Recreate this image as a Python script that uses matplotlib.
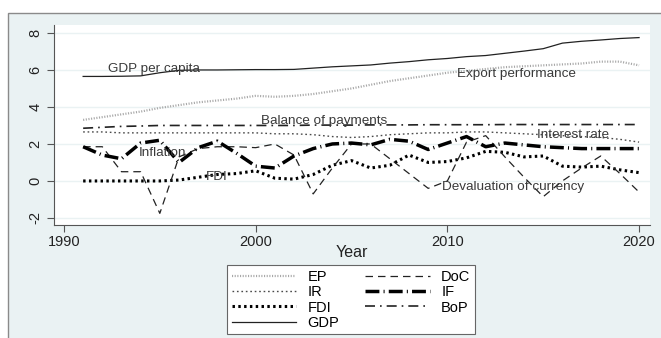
import matplotlib.pyplot as plt
from matplotlib.patches import Rectangle

plt.rcParams['font.family'] = ['Liberation Sans', 'DejaVu Sans']

years = list(range(1991, 2021))

gdp = [5.65, 5.65, 5.66, 5.68, 5.85, 5.98, 6.00, 6.00, 6.01, 6.02,
       6.02, 6.03, 6.10, 6.17, 6.22, 6.27, 6.37, 6.45, 6.55, 6.62,
       6.72, 6.78, 6.90, 7.02, 7.15, 7.45, 7.55, 7.62, 7.70, 7.75]
ep = [3.30, 3.45, 3.60, 3.75, 3.95, 4.10, 4.25, 4.35, 4.45, 4.60,
      4.55, 4.60, 4.70, 4.85, 5.00, 5.20, 5.40, 5.55, 5.70, 5.85,
      5.95, 6.05, 6.15, 6.20, 6.25, 6.30, 6.35, 6.45, 6.45, 6.25]
bop = [2.85, 2.90, 2.95, 2.97, 3.00, 3.00, 3.00, 3.00, 3.00, 3.00,
       3.00, 3.00, 3.02, 3.02, 3.02, 3.03, 3.03, 3.03, 3.04, 3.04,
       3.04, 3.04, 3.05, 3.05, 3.05, 3.05, 3.05, 3.05, 3.05, 3.05]
ir = [2.65, 2.65, 2.60, 2.60, 2.60, 2.60, 2.60, 2.60, 2.60, 2.60,
      2.55, 2.55, 2.50, 2.40, 2.35, 2.40, 2.50, 2.55, 2.60, 2.60,
      2.65, 2.65, 2.60, 2.55, 2.50, 2.45, 2.40, 2.35, 2.25, 2.10]
inf = [1.85, 1.40, 1.20, 2.05, 2.20, 1.00, 1.80, 2.15, 1.50, 0.80,
       0.70, 1.35, 1.75, 2.00, 2.05, 1.95, 2.25, 2.15, 1.70, 2.05,
       2.40, 1.85, 2.05, 1.95, 1.85, 1.80, 1.75, 1.75, 1.75, 1.75]
doc = [1.85, 1.85, 0.50, 0.50, -1.75, 1.30, 1.75, 1.85, 1.85, 1.80,
       2.00, 1.40, -0.70, 0.70, 2.00, 2.00, 1.20, 0.40, -0.40, 0.00,
       2.10, 2.45, 1.30, 0.20, -0.85, 0.00, 0.70, 1.35, 0.40, -0.60]
fdi = [0.00, 0.00, 0.00, 0.00, 0.00, 0.05, 0.20, 0.35, 0.40, 0.55,
       0.15, 0.10, 0.35, 0.85, 1.10, 0.70, 0.85, 1.40, 1.00, 1.05,
       1.25, 1.60, 1.55, 1.30, 1.35, 0.80, 0.75, 0.80, 0.60, 0.45]

# series labels placed inside the plot (text, x, y)
annotations = [
    ('GDP per capita', 1992.3, 6.03),
    ('Export performance', 2010.5, 5.8),
    ('Balance of payments', 2000.3, 3.22),
    ('Interest rate', 2014.7, 2.5),
    ('Inflation', 1993.9, 1.5),
    ('FDI', 1997.4, 0.23),
    ('Devaluation of currency', 2009.7, -0.34),
]

bg = '#eaf2f3'
fig = plt.figure(figsize=(6.61, 3.38), dpi=100)
fig.patch.set_facecolor('white')
fig.patches.append(Rectangle((8 / 661, -0.1), 1.1, 1 - 13 / 338 + 0.1,
                             transform=fig.transFigure, facecolor=bg,
                             edgecolor='#8a8a8a', lw=1, zorder=-10))

ax = fig.add_axes([54 / 661, 113 / 338, 596 / 661, 200 / 338])
ax.set_zorder(1)
ax.set_facecolor('white')

ax.plot(years, ep, color='#a8a8a8', lw=1.6, ls=(0, (0.5, 0.7)), label='EP')
ax.plot(years, ir, color='#4a4a4a', lw=1.0, ls=(0, (1.2, 2.0)), label='IR')
ax.plot(years, fdi, color='black', lw=2.2, ls=(0, (0.8, 1.1)), label='FDI')
ax.plot(years, gdp, color='#222222', lw=0.9, ls='-', label='GDP')
ax.plot(years, doc, color='#222222', lw=0.9, ls=(0, (6, 4)), label='DoC')
ax.plot(years, inf, color='black', lw=2.5, ls=(0, (4, 1.2, 0.3, 1.2)), label='IF')
ax.plot(years, bop, color='#222222', lw=1.2, ls=(0, (6, 3, 1, 3)), label='BoP')

for txt, x, y in annotations:
    ax.text(x, y, txt, fontsize=9.7, color='#3a3a3a', va='center', ha='left')

ax.set_xlim(1989.48, 2020.57)
ax.set_ylim(-2.38, 8.43)
ax.set_xticks([1990, 2000, 2010, 2020])
ax.set_yticks([-2, 0, 2, 4, 6, 8])
ax.set_yticklabels(['-2', '0', '2', '4', '6', '8'], rotation=90, va='center')
ax.tick_params(axis='both', labelsize=10.5, color='#555555', length=5,
               labelcolor='#222222')
ax.tick_params(axis='x', pad=2)
ax.grid(axis='y', color=bg, lw=1)
ax.set_axisbelow(True)
for side in ['top', 'right']:
    ax.spines[side].set_visible(False)
for side in ['left', 'bottom']:
    ax.spines[side].set_color('#555555')
ax.set_xlabel('Year', fontsize=11.5, color='#222222', labelpad=-3)

# legend: two columns, filled column by column
h = {l.get_label(): l for l in ax.get_lines()}
order = ['EP', 'IR', 'FDI', 'GDP', 'DoC', 'IF', 'BoP']
leg = fig.legend([h[k] for k in order], order, loc='upper center',
                 bbox_to_anchor=(351 / 661, 1 - 258 / 338), ncol=2,
                 fontsize=10.5, handlelength=4.4, columnspacing=1.8,
                 labelspacing=0.1, borderpad=0.3, handletextpad=0.8,
                 fancybox=False, framealpha=1)
leg.get_frame().set_edgecolor('#666666')
leg.get_frame().set_linewidth(0.8)

fig.savefig('out.png', dpi=100, facecolor=fig.get_facecolor())
